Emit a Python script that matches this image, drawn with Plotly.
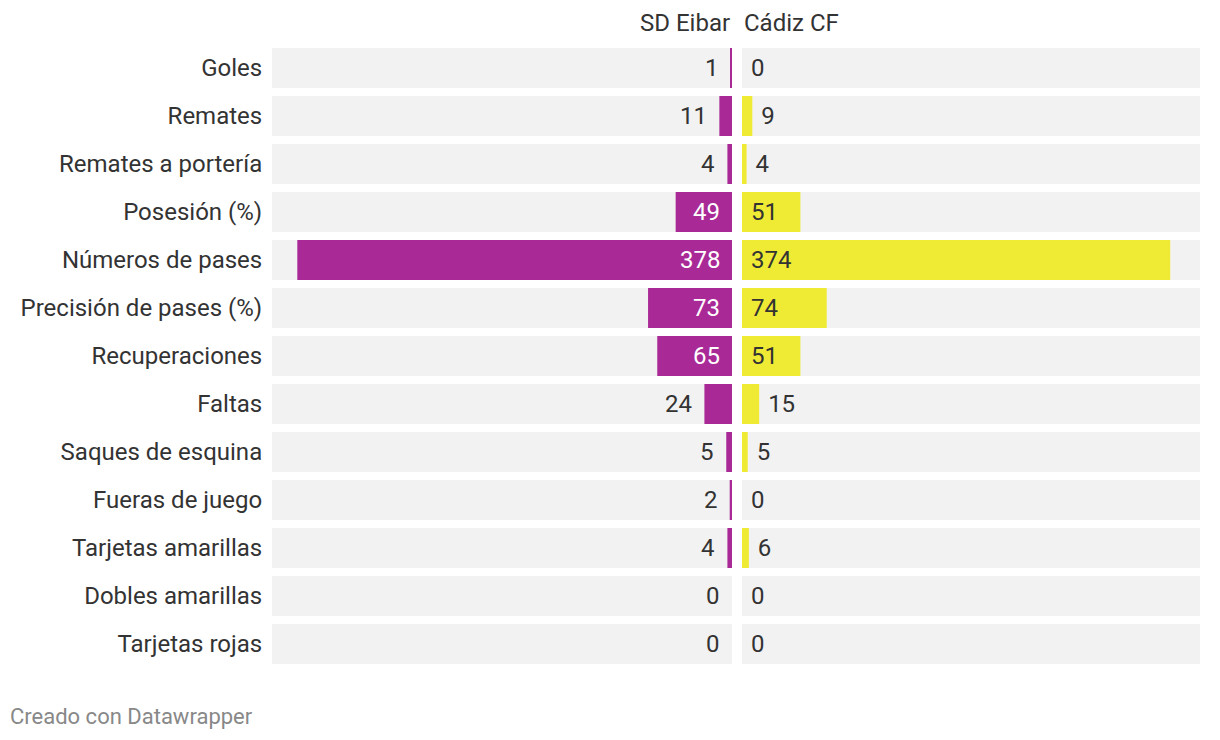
import plotly.graph_objects as go

categories = ["Goles", "Remates", "Remates a portería", "Posesión (%)", "Números de pases",
              "Precisión de pases (%)", "Recuperaciones", "Faltas", "Saques de esquina",
              "Fueras de juego", "Tarjetas amarillas", "Dobles amarillas", "Tarjetas rojas"]
eibar = [1, 11, 4, 49, 378, 73, 65, 24, 5, 2, 4, 0, 0]
cadiz = [0, 9, 4, 51, 374, 74, 51, 15, 5, 0, 6, 0, 0]
team_left = "SD Eibar"
team_right = "Cádiz CF"
axis_max = 400

# page has an 8px body margin, so the figure is drawn 8px in from the window corner
W, H = 1204, 724
PURPLE = "#a92a97"
YELLOW = "#efeb35"
BG = "#f2f2f2"
TXT = "#333333"
FONT = "Roboto"
FS = 24
BW = 40 / 48
THR = 30
n = len(categories)

left_inside = [v >= THR for v in eibar]
right_pos = ["inside" if v >= THR else "outside" for v in cadiz]

fig = go.Figure()
# background bands
fig.add_trace(go.Bar(y=categories, x=[axis_max] * n, orientation="h",
                     marker=dict(color=BG, line=dict(width=0)), width=BW,
                     hoverinfo="skip", xaxis="x", yaxis="y", showlegend=False))
fig.add_trace(go.Bar(y=categories, x=[axis_max] * n, orientation="h",
                     marker=dict(color=BG, line=dict(width=0)), width=BW,
                     hoverinfo="skip", xaxis="x2", yaxis="y2", showlegend=False))
# data bars
fig.add_trace(go.Bar(y=categories, x=eibar, orientation="h", name=team_left,
                     marker=dict(color=PURPLE, line=dict(width=0)), width=BW,
                     textposition="none", xaxis="x", yaxis="y", showlegend=False))
fig.add_trace(go.Bar(y=categories, x=cadiz, orientation="h", name=team_right,
                     marker=dict(color=YELLOW, line=dict(width=0)), width=BW,
                     text=[str(v) for v in cadiz], texttemplate="\u00a0%{text}",
                     textposition=right_pos, insidetextanchor="start",
                     insidetextfont=dict(color=TXT, size=FS, family=FONT),
                     outsidetextfont=dict(color=TXT, size=FS, family=FONT),
                     cliponaxis=False, xaxis="x2", yaxis="y2", showlegend=False))

# left value labels, placed on the left axis scale
left_labels = [
    dict(text=str(v), xref="x", yref="y", x=(0 if ins else v), y=cat,
         xanchor="right", yanchor="middle", xshift=-10, showarrow=False,
         font=dict(size=FS, family=FONT, color=("white" if ins else TXT)))
    for cat, v, ins in zip(categories, eibar, left_inside)
]

fig.update_layout(
    width=W, height=H,
    margin=dict(l=0, r=0, t=36, b=64),
    paper_bgcolor="white", plot_bgcolor="white",
    barmode="overlay",
    font=dict(family=FONT, size=FS, color=TXT),
    xaxis=dict(domain=[264 / W, 724 / W], range=[axis_max, 0], visible=False, fixedrange=True),
    xaxis2=dict(domain=[734 / W, 1192 / W], range=[0, axis_max], visible=False, fixedrange=True),
    yaxis=dict(categoryorder="array", categoryarray=categories, range=[n - 0.5, -0.5],
               anchor="x", showgrid=False, zeroline=False, showline=False, fixedrange=True,
               ticks="outside", ticklen=4, tickcolor="rgba(0,0,0,0)",
               tickfont=dict(size=FS, color=TXT, family=FONT)),
    yaxis2=dict(categoryorder="array", categoryarray=categories, range=[n - 0.5, -0.5],
                anchor="x2", showgrid=False, zeroline=False, showline=False, fixedrange=True,
                showticklabels=False),
    annotations=left_labels + [
        dict(text=team_left, xref="paper", yref="paper", x=724 / W, y=1, yshift=21,
             xanchor="right", yanchor="middle", showarrow=False,
             font=dict(size=FS, color=TXT, family=FONT)),
        dict(text=team_right, xref="paper", yref="paper", x=734 / W, y=1, yshift=21,
             xanchor="left", yanchor="middle", showarrow=False,
             font=dict(size=FS, color=TXT, family=FONT)),
        dict(text="Creado con Datawrapper", xref="paper", yref="paper", x=0, xanchor="left",
             y=0, yshift=-48, yanchor="middle", showarrow=False,
             font=dict(size=22, color="#888888", family=FONT)),
    ],
)

fig.write_html("out.html")
